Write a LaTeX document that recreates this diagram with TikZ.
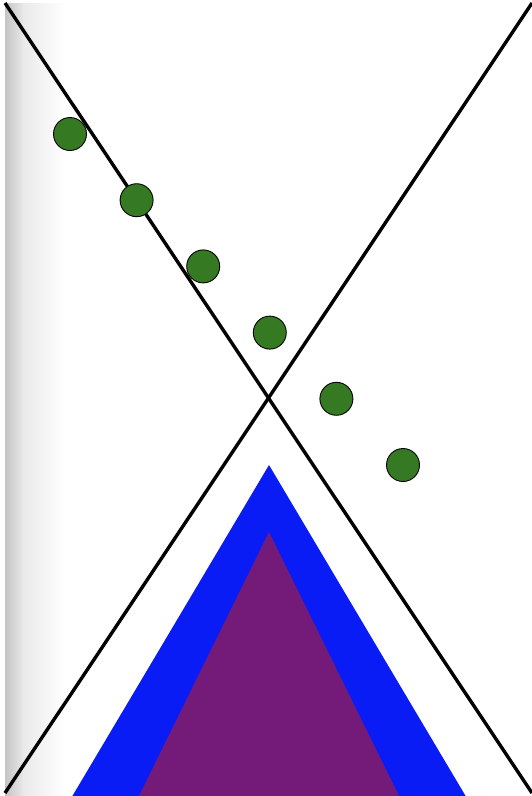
\documentclass[tikz,border=0pt]{standalone}
\usepackage{xcolor}
\usepackage{tikz}
\definecolor{hourBlue}{HTML}{0A1CF6}
\definecolor{hourPurple}{HTML}{741B79}
\definecolor{hourGreen}{HTML}{357A22}
\definecolor{hourShade}{HTML}{C4C4C4}
\definecolor{hourPale}{HTML}{EAEAEA}
\tikzset{
  cross/.style={line width=3.4pt, black, line cap=butt},
  dot/.style={circle, draw=black, line width=0.9pt, fill=hourGreen,
    minimum size=33pt, inner sep=0pt},
}

\begin{document}
\begin{tikzpicture}[x=1pt, y=-1pt]
  \useasboundingbox (0,0) rectangle (532,796);
  \clip (0,0) rectangle (532,796);
  % shaded left edge
  \shade[left color=hourShade, right color=hourPale] (5,3) rectangle (24,796);
  \shade[left color=hourPale, right color=white] (23.5,3) rectangle (66,796);
  % the two crossing lines
  \coordinate (tl) at (5,3);
  \coordinate (tr) at (532,3);
  \coordinate (bl) at (5,793);
  \coordinate (br) at (532,793);
  \draw[cross] (tl) -- (br);
  \draw[cross] (tr) -- (bl);
  % nested triangles below the crossing
  \fill[hourBlue] (269,465) -- (468,800) -- (70,800) -- cycle;
  \fill[hourPurple] (269,532) -- (401,800) -- (137,800) -- cycle;
  % row of dots
  \foreach \i in {0,...,5}
    \node[dot] (d\i) at ({70+66.6*\i},{134+66.2*\i}) {};
\end{tikzpicture}
\end{document}
